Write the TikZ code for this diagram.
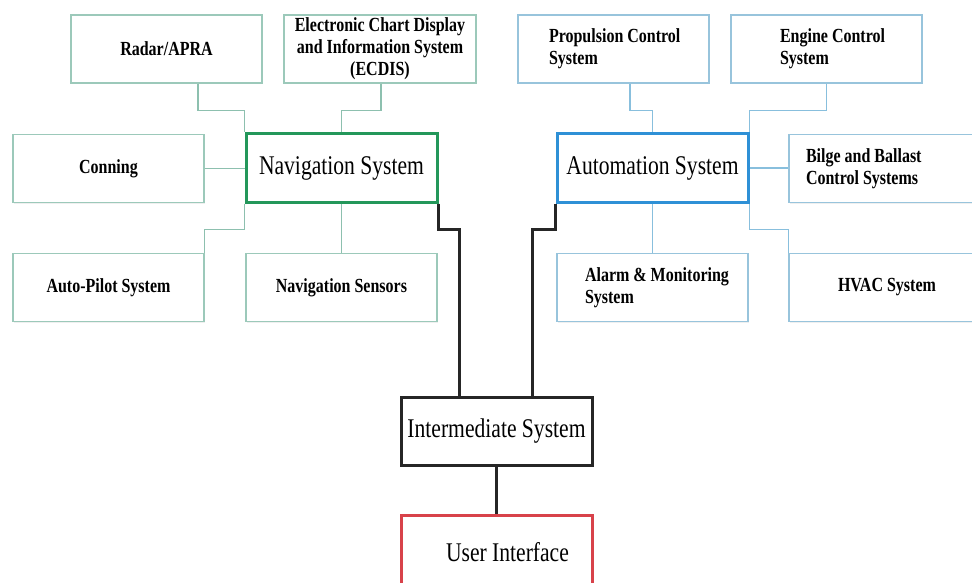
\documentclass[tikz,border=0pt]{standalone}
\usepackage{fontspec}
\setmainfont{Liberation Serif}[FakeStretch=0.8]
\usetikzlibrary{calc,shadows}
\definecolor{navgreen}{HTML}{23975A}
\definecolor{autoblue}{HTML}{2E90D6}
\definecolor{uired}{HTML}{D8424A}
\definecolor{navlt}{HTML}{9CC9BA}
\definecolor{autolt}{HTML}{98C4DC}
\definecolor{navcn}{HTML}{8DC0AF}
\definecolor{autocn}{HTML}{88BFDD}
\definecolor{blk}{HTML}{262626}
\begin{document}
\begin{tikzpicture}[x=1pt,y=-1pt,
 sub/.style={draw, line width=1.3pt, fill=white, minimum width=191pt, minimum height=68pt, inner sep=0pt,
   font=\fontsize{20}{22}\selectfont\bfseries, align=center,
   drop shadow={opacity=0.12, shadow xshift=1pt, shadow yshift=-1pt}},
 navsub/.style={sub, draw=navlt},
 autosub/.style={sub, draw=autolt},
 mainbox/.style={draw, line width=3pt, fill=white, minimum width=191pt, minimum height=68pt, inner sep=0pt,
   font=\fontsize{27}{30}\selectfont},
 lftbox/.style={text width=191pt, align=flush left},
 navln/.style={draw=navcn, line width=1.3pt},
 autoln/.style={draw=autocn, line width=1.3pt},
 blkln/.style={draw=blk, line width=3pt},
]
\clip (0,0) rectangle (972,583);
\fill[white] (0,0) rectangle (972,583);

% navigation side
\node[navsub] (radar) at (166.5,49) {Radar/APRA};
\node[navsub, minimum width=192pt] (ecdis) at (380,49) {Electronic Chart Display\\and Information System\\(ECDIS)};
\node[navsub] (conning) at (108.5,168.5) {Conning};
\node[navsub] (autop) at (108.5,287.5) {Auto-Pilot System};
\node[navsub] (sensors) at (341.5,287.5) {Navigation Sensors};
\node[mainbox, draw=navgreen] (nav) at (341.5,168) {Navigation System};

% automation side
\node[autosub, lftbox] (prop) at (613.5,49) {\hspace*{31pt}Propulsion Control\\\hspace*{31pt}System};
\node[autosub, lftbox] (engine) at (826.5,49) {\hspace*{49pt}Engine Control\\\hspace*{49pt}System};
\node[autosub, lftbox, minimum width=196pt, text width=196pt] (bilge) at (887,168.5) {\hspace*{17pt}Bilge and Ballast\\\hspace*{17pt}Control Systems};
\node[autosub, lftbox] (alarm) at (652.5,287.5) {\hspace*{28pt}Alarm \& Monitoring\\\hspace*{28pt}System};
\node[autosub, minimum width=196pt] (hvac) at (887,287.5) {HVAC System};
\node[mainbox, draw=autoblue] (auto) at (652.5,168) {Automation System};

% lower part
\node[mainbox, draw=blk] (inter) at (496.5,431) {Intermediate System};
\node[mainbox, draw=uired, lftbox, minimum height=75pt] (ui) at (496.5,552.5) {\hspace*{45pt}User Interface};

% navigation connectors
\draw[navln] ($(radar.south)+(31.5,0)$) |- ($(nav.north west)+(0,-22)$) -- (nav.north west);
\draw[navln] ($(ecdis.south)+(1,0)$) |- ($(nav.north)+(0,-22)$) -- (nav.north);
\draw[navln] (conning.east) -- (conning.east -| nav.west);
\draw[navln] (nav.south west) -- ++(0,26) -| (autop.north east);
\draw[navln] (nav.south) -- (sensors.north);

% automation connectors
\draw[autoln] ($(prop.south)+(16.5,0)$) |- ($(auto.north)+(0,-22)$) -- (auto.north);
\draw[autoln] (engine.south) |- ($(auto.north east)+(0,-22)$) -- (auto.north east);
\draw[autoln] (auto.east) -- (auto.east -| bilge.west);
\draw[autoln] (auto.south east) -- ++(0,26) -| (hvac.north west);
\draw[autoln] (auto.south) -- (alarm.north);

% main connectors
\draw[blkln] (nav.south east) -- ++(0,26) -| ($(inter.north west)+(60,0)$);
\draw[blkln] (auto.south west) -- ++(0,26) -| ($(inter.north east)+(-61,0)$);
\draw[blkln] (inter.south) -- (ui.north);
\end{tikzpicture}
\end{document}
